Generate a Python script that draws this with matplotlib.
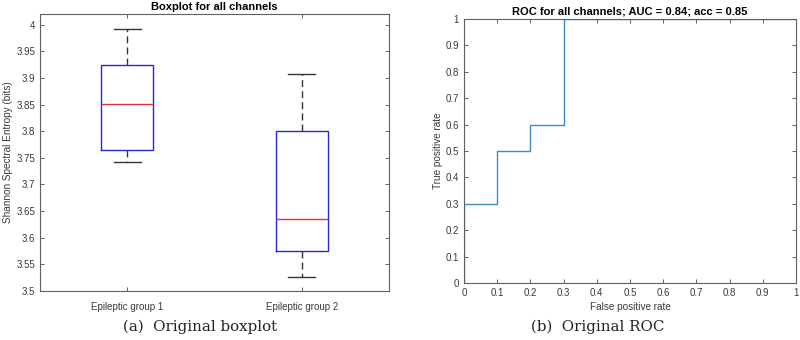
import matplotlib
matplotlib.use("Agg")
import matplotlib.pyplot as plt

plt.rcParams['font.family'] = ['Liberation Sans', 'DejaVu Sans']

# Boxplot data (summary statistics)
groups = ["Epileptic group 1", "Epileptic group 2"]
whislo = [3.742, 3.527]
q1 = [3.765, 3.576]
med = [3.851, 3.635]
q3 = [3.925, 3.800]
whishi = [3.992, 3.908]
box_yticks = [3.5, 3.55, 3.6, 3.65, 3.7, 3.75, 3.8, 3.85, 3.9, 3.95, 4]
box_yticklabels = ["3.5", "3.55", "3.6", "3.65", "3.7", "3.75", "3.8", "3.85", "3.9", "3.95", "4"]

# ROC data
fpr = [0, 0, 0.1, 0.1, 0.2, 0.2, 0.3, 0.3, 1]
tpr = [0, 0.3, 0.3, 0.5, 0.5, 0.6, 0.6, 1, 1]
roc_ticks = [0, 0.1, 0.2, 0.3, 0.4, 0.5, 0.6, 0.7, 0.8, 0.9, 1]
roc_ticklabels = ["0", "0.1", "0.2", "0.3", "0.4", "0.5", "0.6", "0.7", "0.8", "0.9", "1"]

W, H = 800, 340
fig = plt.figure(figsize=(8, 3.4), dpi=100)

axc = '#606060'
txtc = '#3a3a3a'

def style(ax):
    for s in ax.spines.values():
        s.set_color(axc)
        s.set_linewidth(0.8)
    ax.tick_params(direction='in', length=3, width=0.7, colors=axc,
                   labelcolor=txtc, labelsize=7, top=True, right=True)

# Left: boxplot
ax1 = fig.add_axes([40 / W, 1 - 291 / H, 349 / W, (291 - 14) / H])
stats = []
for i, g in enumerate(groups):
    stats.append(dict(label=g, whislo=whislo[i], q1=q1[i], med=med[i],
                      q3=q3[i], whishi=whishi[i], fliers=[]))
ax1.bxp(stats, positions=[1, 2], widths=0.3, capwidths=0.155,
        boxprops=dict(color='#2828d8', linewidth=1.0),
        medianprops=dict(color='#e83030', linewidth=1.0),
        whiskerprops=dict(color='#333333', linestyle=(0, (5, 3)), linewidth=1.0),
        capprops=dict(color='#333333', linewidth=1.0),
        showfliers=False)
ax1.set_xlim(0.5, 2.5)
ax1.set_ylim(3.5, 4.02)
ax1.set_yticks(box_yticks)
ax1.set_yticklabels(box_yticklabels)
ax1.set_xticks([1, 2])
ax1.set_xticklabels(groups)
style(ax1)
ax1.tick_params(axis='x', pad=8)
ax1.set_ylabel("Shannon Spectral Entropy (bits)", fontsize=7.2, color=txtc)
ax1.yaxis.set_label_coords((13 - 40) / 349, 0.5)
ax1.set_title("Boxplot for all channels", fontsize=8, fontweight='bold', pad=3)

# Right: ROC
ax2 = fig.add_axes([464 / W, 1 - 283 / H, (796 - 464) / W, (283 - 19) / H])
ax2.plot(fpr, tpr, color='#3d8cc4', linewidth=1.0)
ax2.set_xlim(0, 1)
ax2.set_ylim(0, 1)
ax2.set_xticks(roc_ticks)
ax2.set_xticklabels(roc_ticklabels)
ax2.set_yticks(roc_ticks)
ax2.set_yticklabels(roc_ticklabels)
style(ax2)
ax2.set_xlabel("False positive rate", fontsize=7.2, color=txtc, labelpad=3)
ax2.set_ylabel("True positive rate", fontsize=7.2, color=txtc)
ax2.yaxis.set_label_coords((443 - 464) / 332, 0.5)
ax2.set_title("ROC for all channels; AUC = 0.84; acc = 0.85", fontsize=8,
              fontweight='bold', pad=3)

# Captions
fig.text(200 / W, 1 - 327 / H, "(a)  Original boxplot", ha='center', va='center',
         fontsize=10.8, family=['DejaVu Serif'], color='#222222')
fig.text(598 / W, 1 - 327 / H, "(b)  Original ROC", ha='center', va='center',
         fontsize=10.8, family=['DejaVu Serif'], color='#222222')

fig.savefig("out.png", dpi=100)
